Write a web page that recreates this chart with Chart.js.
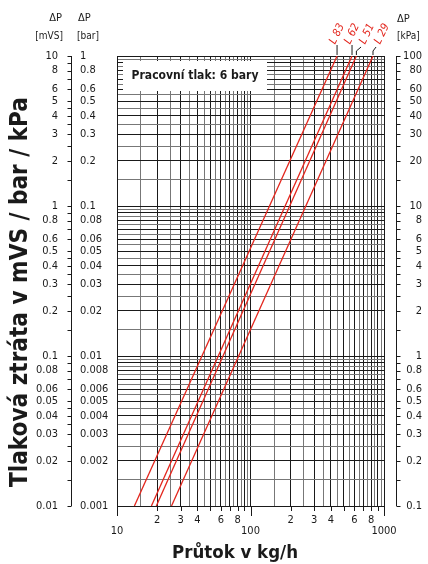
<!DOCTYPE html>
<html>
<head>
<meta charset="utf-8">
<script src="https://cdn.jsdelivr.net/npm/chart.js@4.4.0/dist/chart.umd.min.js"></script>
<style>
    body { margin: 0; background: #ffffff; }
    canvas { display: block; }
</style>
</head>
<body>
<canvas id="nomogram" width="428" height="564"></canvas>
<script>
// tlaková ztráta (bar) na koncích přímek
var pressureBar = [0.001, 1];
// průtok v kg/h pro jednotlivé ventily
var flowL83 = [13.5, 445];
var flowL62 = [18.1, 576];
var flowL51 = [19.7, 621];
var flowL29 = [25.6, 827];
var lineNames = ['L 83', 'L 62', 'L 51', 'L 29'];

// popisky os
var barLabels = [1, 0.8, 0.6, 0.5, 0.4, 0.3, 0.2, 0.1, 0.08, 0.06, 0.05, 0.04, 0.03, 0.02, 0.01,
    0.008, 0.006, 0.005, 0.004, 0.003, 0.002, 0.001];
var flowMajorLabels = [10, 100, 1000];
var flowMinorLabels = [20, 30, 40, 60, 80, 200, 300, 400, 600, 800];
var gridMantissas = [1, 1.5, 2, 2.5, 3, 3.5, 4, 4.5, 5, 5.5, 6, 6.5, 7, 7.5, 8, 8.5, 9, 9.5];
var axisTickMantissas = [1, 1.5, 2, 2.5, 3, 3.5, 4, 4.5, 5, 6, 7, 8, 9];
var flowTickMantissas = [1, 2, 3, 4, 5, 6, 7, 8, 9];
var workingPressure = 'Pracovní tlak: 6 bary';

var FONT = '"DejaVu Sans Condensed", "DejaVu Sans", sans-serif';
var RED = '#e3261d';

function nice(v) {
    return parseFloat(v.toPrecision(4));
}

function decadeValues(min, max, mantissas) {
    var out = [];
    for (var d = min; d < max * 0.999; d *= 10) {
        mantissas.forEach(function (m) { out.push(nice(m * d)); });
    }
    out.push(max);
    return out;
}

function isWhole(v) {
    var m = v / Math.pow(10, Math.floor(Math.log10(v) + 1e-9));
    return Math.abs(m - Math.round(m)) < 1e-6;
}

function gridColor(ctx) {
    if (!ctx.tick) return '#222';
    return isWhole(ctx.tick.value) ? '#1a1a1a' : '#777777';
}

function fitFont(ctx, text, weight, width) {
    ctx.font = weight + ' 20px ' + FONT;
    var size = 20 * width / ctx.measureText(text).width;
    return weight + ' ' + size.toFixed(2) + 'px ' + FONT;
}

function toPoints(flows) {
    return flows.map(function (f, i) { return { x: f, y: pressureBar[i] }; });
}

var allFlows = [flowL83, flowL62, flowL51, flowL29];

var extraDrawing = {
    id: 'extraDrawing',
    afterDraw: function (chart) {
        var ctx = chart.ctx;
        var xs = chart.scales.x;
        var ys = chart.scales.y;
        var top = ys.getPixelForValue(1);
        var bottom = ys.getPixelForValue(0.001);
        ctx.save();
        ctx.fillStyle = '#1a1a1a';
        ctx.strokeStyle = '#1a1a1a';
        ctx.lineWidth = 1;

        // rámeček "Pracovní tlak"
        ctx.fillStyle = '#ffffff';
        ctx.fillRect(123, 61, 144, 30);
        ctx.fillStyle = '#1a1a1a';
        ctx.font = fitFont(ctx, workingPressure, 'bold', 127);
        ctx.textAlign = 'center';
        ctx.textBaseline = 'middle';
        ctx.fillText(workingPressure, 195, 76);

        // vnější osy (mVS / bar vlevo, kPa vpravo)
        var axL = 71.5, axR = 396.5;
        ctx.beginPath();
        ctx.moveTo(axL, top);
        ctx.lineTo(axL, bottom);
        ctx.moveTo(axR, top);
        ctx.lineTo(axR, bottom);
        decadeValues(0.001, 1, axisTickMantissas).forEach(function (v) {
            var py = Math.round(ys.getPixelForValue(v)) + 0.5;
            ctx.moveTo(axL - 4, py);
            ctx.lineTo(axL, py);
            ctx.moveTo(axR, py);
            ctx.lineTo(axR + 4, py);
        });
        ctx.stroke();

        ctx.font = '11px ' + FONT;
        ctx.textBaseline = 'middle';
        barLabels.forEach(function (v) {
            var py = ys.getPixelForValue(v);
            ctx.textAlign = 'right';
            ctx.fillText(String(nice(v * 10)), 58, py);
            ctx.textAlign = 'left';
            ctx.fillText(String(v), 80, py);
            ctx.textAlign = 'right';
            ctx.fillText(String(nice(v * 100)), 422, py);
        });

        // hlavičky os
        ctx.font = '11px ' + FONT;
        ctx.textAlign = 'right';
        ctx.fillText('\u0394P', 62, 18);
        ctx.font = '10px ' + FONT;
        ctx.fillText('[mVS]', 63, 36);
        ctx.textAlign = 'left';
        ctx.font = '11px ' + FONT;
        ctx.fillText('\u0394P', 78, 18);
        ctx.fillText('\u0394P', 397, 19);
        ctx.font = '10px ' + FONT;
        ctx.fillText('[bar]', 77, 36);
        ctx.fillText('[kPa]', 397, 36);

        // osa x – značky a popisky
        ctx.beginPath();
        decadeValues(10, 1000, flowTickMantissas).forEach(function (v) {
            var px = Math.round(xs.getPixelForValue(v)) + 0.5;
            var len = flowMajorLabels.indexOf(v) >= 0 ? 10 : 5;
            ctx.moveTo(px, bottom);
            ctx.lineTo(px, bottom + len);
        });
        ctx.stroke();
        ctx.font = '11px ' + FONT;
        ctx.textAlign = 'center';
        flowMinorLabels.forEach(function (v) {
            ctx.fillText(String(v).charAt(0), xs.getPixelForValue(v), 520);
        });
        flowMajorLabels.forEach(function (v) {
            ctx.fillText(String(v), xs.getPixelForValue(v), 531);
        });

        // názvy os
        var xTitle = 'Průtok v kg/h';
        ctx.font = fitFont(ctx, xTitle, 'bold', 126);
        ctx.fillText(xTitle, 235, 553);
        var yTitle = 'Tlaková ztráta v mVS / bar / kPa';
        ctx.save();
        ctx.translate(21, 292);
        ctx.rotate(-Math.PI / 2);
        ctx.font = fitFont(ctx, yTitle, 'bold', 390);
        ctx.fillText(yTitle, 0, 0);
        ctx.restore();

        // popisky přímek
        var prevX = -100;
        ctx.font = 'italic 11px ' + FONT;
        allFlows.forEach(function (flows, i) {
            var xTop = xs.getPixelForValue(flows[1]);
            var labelX = Math.max(xTop, prevX + 15);
            prevX = labelX;
            var shifted = labelX - xTop > 3;
            ctx.strokeStyle = '#1a1a1a';
            ctx.beginPath();
            ctx.moveTo(xTop, top - 1);
            ctx.lineTo(xTop, top - 5);
            ctx.lineTo(shifted ? labelX - 6 : xTop, top - (shifted ? 9 : 11));
            ctx.stroke();
            ctx.save();
            ctx.translate(labelX, 34);
            ctx.rotate(-64 * Math.PI / 180);
            ctx.fillStyle = RED;
            ctx.textAlign = 'center';
            ctx.textBaseline = 'middle';
            ctx.fillText(lineNames[i], 0, 0);
            ctx.restore();
        });
        ctx.restore();
    }
};

function makeSet(name, flows) {
    return {
        label: name,
        data: toPoints(flows),
        borderColor: RED,
        borderWidth: 1.3,
        pointRadius: 0,
        fill: false,
        tension: 0
    };
}

var chart = new Chart(document.getElementById('nomogram').getContext('2d'), {
    type: 'line',
    data: {
        datasets: [
            makeSet(lineNames[0], flowL83),
            makeSet(lineNames[1], flowL62),
            makeSet(lineNames[2], flowL51),
            makeSet(lineNames[3], flowL29)
        ]
    },
    options: {
        responsive: false,
        animation: false,
        devicePixelRatio: 1,
        layout: { padding: { left: 117, right: 44, top: 56, bottom: 58 } },
        plugins: { legend: { display: false }, tooltip: { enabled: false } },
        scales: {
            x: {
                type: 'logarithmic',
                min: 10,
                max: 1000,
                afterBuildTicks: function (axis) {
                    axis.ticks = decadeValues(10, 1000, gridMantissas).map(function (v) { return { value: v }; });
                },
                ticks: { display: false, autoSkip: false },
                grid: { drawTicks: false, color: gridColor, lineWidth: 1 },
                border: { display: true, color: '#1a1a1a', width: 1 }
            },
            y: {
                type: 'logarithmic',
                min: 0.001,
                max: 1,
                afterBuildTicks: function (axis) {
                    axis.ticks = decadeValues(0.001, 1, gridMantissas).map(function (v) { return { value: v }; });
                },
                ticks: { display: false, autoSkip: false },
                grid: { drawTicks: false, color: gridColor, lineWidth: 1 },
                border: { display: true, color: '#1a1a1a', width: 1 }
            }
        }
    },
    plugins: [extraDrawing]
});
</script>
</body>
</html>
